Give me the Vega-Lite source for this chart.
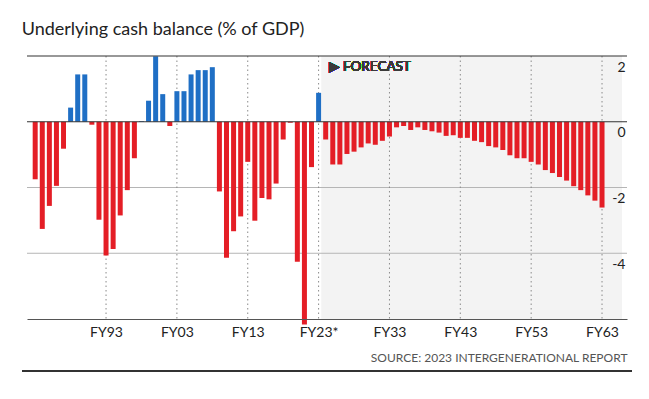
{
  "$schema": "https://vega.github.io/schema/vega-lite/v6.json",
  "width": 600,
  "height": 263,
  "autosize": {"type": "none"},
  "padding": {"left": 27, "top": 56, "right": 22, "bottom": 80},
  "background": "white",
  "config": {
    "view": {"stroke": null},
    "font": "Lato"
  },
  "title": {
    "text": "Underlying cash balance (% of GDP)",
    "anchor": "start",
    "fontSize": 18,
    "fontWeight": "normal",
    "color": "#222222",
    "font": "Lato",
    "offset": 16
  },
  "datasets": {
    "balance": [
      {"year": 1983, "value": -1.75}, {"year": 1984, "value": -3.26}, {"year": 1985, "value": -2.56},
      {"year": 1986, "value": -1.95}, {"year": 1987, "value": -0.82}, {"year": 1988, "value": 0.43},
      {"year": 1989, "value": 1.44}, {"year": 1990, "value": 1.44}, {"year": 1991, "value": -0.09},
      {"year": 1992, "value": -2.98}, {"year": 1993, "value": -4.07}, {"year": 1994, "value": -3.87},
      {"year": 1995, "value": -2.85}, {"year": 1996, "value": -2.08}, {"year": 1997, "value": -1.11},
      {"year": 1998, "value": 0.02}, {"year": 1999, "value": 0.64}, {"year": 2000, "value": 1.99},
      {"year": 2001, "value": 0.84}, {"year": 2002, "value": -0.13}, {"year": 2003, "value": 0.93},
      {"year": 2004, "value": 0.93}, {"year": 2005, "value": 1.44}, {"year": 2006, "value": 1.57},
      {"year": 2007, "value": 1.57}, {"year": 2008, "value": 1.66}, {"year": 2009, "value": -2.12},
      {"year": 2010, "value": -4.14}, {"year": 2011, "value": -3.33}, {"year": 2012, "value": -2.88},
      {"year": 2013, "value": -1.22}, {"year": 2014, "value": -3.01}, {"year": 2015, "value": -2.32},
      {"year": 2016, "value": -2.36}, {"year": 2017, "value": -1.88}, {"year": 2018, "value": -0.54},
      {"year": 2019, "value": -0.03}, {"year": 2020, "value": -4.26}, {"year": 2021, "value": -6.17},
      {"year": 2022, "value": -1.38}, {"year": 2023, "value": 0.88}, {"year": 2024, "value": -0.54},
      {"year": 2025, "value": -1.3}, {"year": 2026, "value": -1.3}, {"year": 2027, "value": -0.98},
      {"year": 2028, "value": -0.91}, {"year": 2029, "value": -0.78}, {"year": 2030, "value": -0.66},
      {"year": 2031, "value": -0.7}, {"year": 2032, "value": -0.58}, {"year": 2033, "value": -0.45},
      {"year": 2034, "value": -0.17}, {"year": 2035, "value": -0.13}, {"year": 2036, "value": -0.25},
      {"year": 2037, "value": -0.17}, {"year": 2038, "value": -0.25}, {"year": 2039, "value": -0.29},
      {"year": 2040, "value": -0.33}, {"year": 2041, "value": -0.43}, {"year": 2042, "value": -0.41},
      {"year": 2043, "value": -0.49}, {"year": 2044, "value": -0.49}, {"year": 2045, "value": -0.58},
      {"year": 2046, "value": -0.62}, {"year": 2047, "value": -0.74}, {"year": 2048, "value": -0.78},
      {"year": 2049, "value": -0.86}, {"year": 2050, "value": -1.02}, {"year": 2051, "value": -1.11},
      {"year": 2052, "value": -1.11}, {"year": 2053, "value": -1.22}, {"year": 2054, "value": -1.3},
      {"year": 2055, "value": -1.47}, {"year": 2056, "value": -1.56}, {"year": 2057, "value": -1.68},
      {"year": 2058, "value": -1.79}, {"year": 2059, "value": -1.96}, {"year": 2060, "value": -2.08},
      {"year": 2061, "value": -2.24}, {"year": 2062, "value": -2.4}, {"year": 2063, "value": -2.61}
    ],
    "ygrid": [{"level": 2}, {"level": 0}, {"level": -2}, {"level": -4}],
    "xgrid": [{"year": 1993}, {"year": 2003}, {"year": 2013}, {"year": 2023}, {"year": 2033}, {"year": 2043}, {"year": 2053}, {"year": 2063}]
  },
  "layer": [
    {
      "data": {"name": "balance"},
      "mark": {"type": "rect", "color": "#f3f3f3"},
      "encoding": {
        "x": {"datum": 2023.45, "type": "quantitative", "scale": {"domain": [1982.55, 2065.82], "nice": false, "zero": false}},
        "x2": {"datum": 2065.82},
        "y": {"datum": 2, "type": "quantitative", "scale": {"domain": [-6, 2], "nice": false}},
        "y2": {"datum": -6}
      }
    },
    {
      "data": {"name": "ygrid"},
      "transform": [{"filter": "datum.level < 0"}],
      "mark": {"type": "rule", "color": "#b5b5b5", "strokeWidth": 1},
      "encoding": {
        "y": {"field": "level", "type": "quantitative"}
      }
    },
    {
      "data": {"name": "xgrid"},
      "mark": {"type": "rule", "color": "#8a8a8a", "strokeWidth": 1, "strokeDash": [1.5, 3]},
      "encoding": {
        "x": {"field": "year", "type": "quantitative"}
      }
    },
    {
      "data": {"name": "balance"},
      "mark": {"type": "bar", "width": 5},
      "encoding": {
        "x": {
          "field": "year",
          "type": "quantitative",
          "axis": {
            "orient": "bottom",
            "zindex": 1,
            "values": [1993, 2003, 2013, 2023, 2033, 2043, 2053, 2063],
            "labelExpr": "'FY' + substring(toString(datum.value), 2, 4) + (datum.value == 2023 ? '*' : '')",
            "grid": false,
            "domain": true,
            "domainColor": "#555555",
            "domainWidth": 1.2,
            "ticks": false,
            "tickSize": 0,
            "labelPadding": 6,
            "labelFontSize": 14,
            "labelColor": "#222222",
            "labelFont": "Lato",
            "title": "SOURCE: 2023 INTERGENERATIONAL REPORT",
            "titleAnchor": "end",
            "titleFontSize": 12,
            "titleFontWeight": "normal",
            "titleColor": "#555555",
            "titleFont": "Lato",
            "titlePadding": 13
          }
        },
        "y": {
          "field": "value",
          "type": "quantitative",
          "axis": {
            "orient": "right",
            "zindex": 1,
            "values": [2, 0, -2, -4],
            "labelExpr": "toString(datum.value)",
            "grid": false,
            "domain": false,
            "ticks": false,
            "tickSize": 0,
            "labelAlign": "right",
            "labelBaseline": "top",
            "labelOffset": 4,
            "labelPadding": -2,
            "labelFontSize": 14,
            "labelColor": "#222222",
            "labelFont": "Lato",
            "title": null
          }
        },
        "color": {
          "condition": {"test": "datum.value > 0", "value": "#1f6fc5"},
          "value": "#e41e26"
        }
      }
    },
    {
      "data": {"name": "ygrid"},
      "transform": [{"filter": "datum.level >= 0"}],
      "mark": {"type": "rule", "color": "#333333", "strokeWidth": 1.2},
      "encoding": {
        "y": {"field": "level", "type": "quantitative"}
      }
    },
    {
      "data": {"name": "balance"},
      "mark": {"type": "text", "align": "left", "baseline": "middle", "fontSize": 13.5, "fontWeight": "normal", "color": "#3a3a3a", "font": "Lato"},
      "encoding": {
        "x": {"datum": 2024.4, "type": "quantitative"},
        "y": {"datum": 1.67, "type": "quantitative"},
        "text": {"value": "▶ FORECAST"}
      }
    },
    {
      "data": {"name": "balance"},
      "mark": {"type": "rule", "color": "#333333", "strokeWidth": 1.5, "clip": false},
      "encoding": {
        "x": {"datum": 1981.2, "type": "quantitative"},
        "x2": {"datum": 2067.2},
        "y": {"datum": -7.58, "type": "quantitative"}
      }
    }
  ]
}
